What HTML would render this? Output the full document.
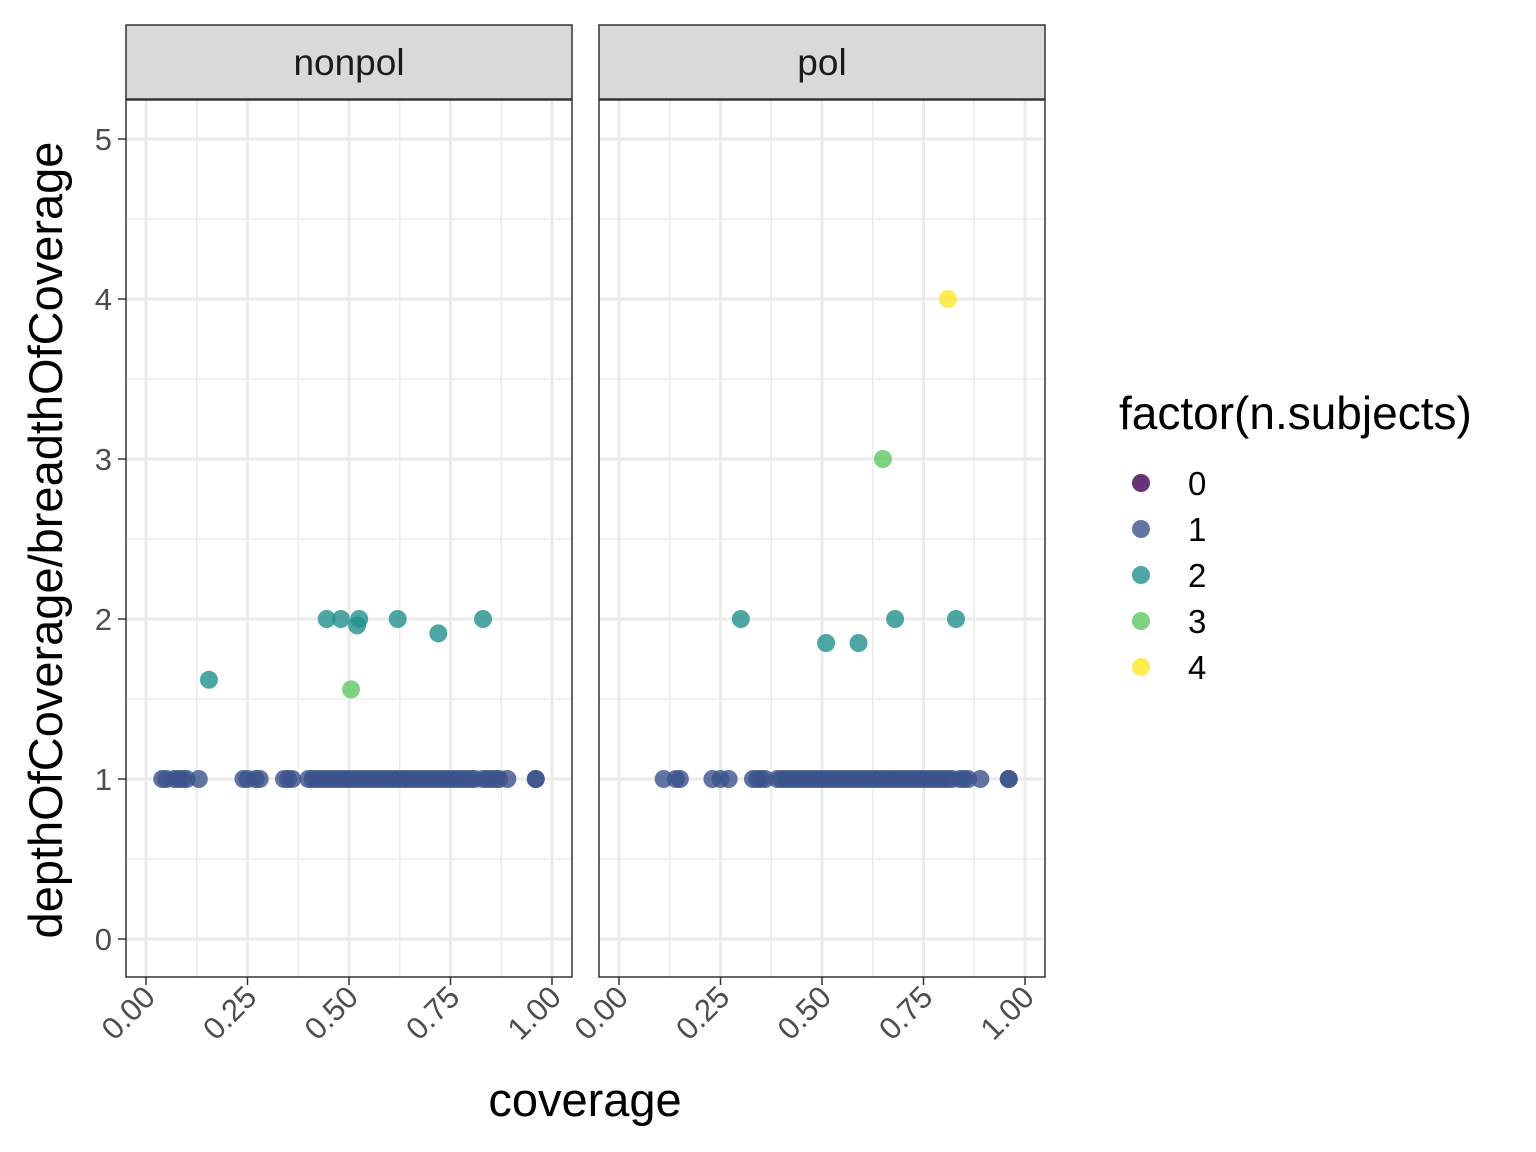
<!DOCTYPE html>
<html><head><meta charset="utf-8"><style>body{margin:0;background:#fff}svg{display:block;font-family:"Liberation Sans",sans-serif}</style></head>
<body>
<svg id="c" width="1536" height="1152" viewBox="0 0 1536 1152"></svg>
<script>
const panels=["nonpol","pol"];
const levels=["0","1","2","3","4"];
const colors=["#440154","#3B528B","#21908C","#5DC863","#FDE725"];
const xTicks=[0,0.25,0.5,0.75,1];
const xTickLabels=["0.00","0.25","0.50","0.75","1.00"];
const yTicks=[0,1,2,3,4,5];
// nonpol data
const npX=[0.04,0.05,0.07,0.08,0.09,0.10,0.13,0.24,0.25,0.27,0.28,0.34,0.35,0.36,0.40,0.41,0.42,0.43,0.44,0.45,0.46,0.47,0.48,0.49,0.50,0.51,0.52,0.53,0.54,0.55,0.56,0.57,0.58,0.59,0.60,0.61,0.62,0.63,0.64,0.65,0.66,0.67,0.68,0.69,0.70,0.71,0.72,0.73,0.74,0.75,0.76,0.77,0.78,0.79,0.80,0.81,0.83,0.84,0.85,0.86,0.87,0.89,0.96,0.96,
0.155,0.445,0.48,0.525,0.52,0.62,0.72,0.83,0.505];
const npY=[1,1,1,1,1,1,1,1,1,1,1,1,1,1,1,1,1,1,1,1,1,1,1,1,1,1,1,1,1,1,1,1,1,1,1,1,1,1,1,1,1,1,1,1,1,1,1,1,1,1,1,1,1,1,1,1,1,1,1,1,1,1,1,1,
1.62,2,2,2,1.96,2,1.91,2,1.56];
const npG=[1,1,1,1,1,1,1,1,1,1,1,1,1,1,1,1,1,1,1,1,1,1,1,1,1,1,1,1,1,1,1,1,1,1,1,1,1,1,1,1,1,1,1,1,1,1,1,1,1,1,1,1,1,1,1,1,1,1,1,1,1,1,1,1,
2,2,2,2,2,2,2,2,3];
// pol data
const pX=[0.11,0.14,0.15,0.23,0.25,0.27,0.33,0.34,0.35,0.36,0.39,0.40,0.41,0.42,0.43,0.44,0.45,0.46,0.47,0.48,0.49,0.50,0.51,0.52,0.53,0.54,0.55,0.56,0.57,0.58,0.59,0.60,0.61,0.62,0.63,0.64,0.65,0.66,0.67,0.68,0.69,0.70,0.71,0.72,0.73,0.74,0.75,0.76,0.77,0.78,0.79,0.80,0.81,0.82,0.84,0.85,0.86,0.89,0.96,0.96,
0.30,0.51,0.59,0.68,0.83,0.65,0.81];
const pY=[1,1,1,1,1,1,1,1,1,1,1,1,1,1,1,1,1,1,1,1,1,1,1,1,1,1,1,1,1,1,1,1,1,1,1,1,1,1,1,1,1,1,1,1,1,1,1,1,1,1,1,1,1,1,1,1,1,1,1,1,
2,1.85,1.85,2,2,3,4];
const pG=[1,1,1,1,1,1,1,1,1,1,1,1,1,1,1,1,1,1,1,1,1,1,1,1,1,1,1,1,1,1,1,1,1,1,1,1,1,1,1,1,1,1,1,1,1,1,1,1,1,1,1,1,1,1,1,1,1,1,1,1,
2,2,2,2,2,3,4];
const data=[[npX,npY,npG],[pX,pY,pG]];

const svg=document.getElementById('c');const NS="http://www.w3.org/2000/svg";
function mk(t,a,p){const e=document.createElementNS(NS,t);for(const k in a)e.setAttribute(k,a[k]);(p||svg).appendChild(e);return e;}
const panelL=[126,599],pw=446,topY=100,botY=977;
const yS=v=>939-v*160;
panels.forEach((name,pi)=>{
  const L=panelL[pi];const xS=v=>L+20+v*406;
  const g=mk('g',{});
  
  
  for(let i=0;i<4;i++){const v=(xTicks[i]+xTicks[i+1])/2;mk('line',{x1:xS(v),x2:xS(v),y1:topY,y2:botY,stroke:'#ebebeb','stroke-width':1.5},g);}
  for(let i=0;i<5;i++){const v=i+0.5;mk('line',{x1:L,x2:L+pw,y1:yS(v),y2:yS(v),stroke:'#ebebeb','stroke-width':1.5},g);}
  xTicks.forEach(v=>mk('line',{x1:xS(v),x2:xS(v),y1:topY,y2:botY,stroke:'#ebebeb','stroke-width':3},g));
  yTicks.forEach(v=>mk('line',{x1:L,x2:L+pw,y1:yS(v),y2:yS(v),stroke:'#ebebeb','stroke-width':3},g));
  const [dx,dy,dg]=data[pi];
  dx.forEach((v,i)=>{const c=mk('circle',{cx:xS(v),cy:yS(dy[i]),r:9,fill:colors[dg[i]],'fill-opacity':0.8},g);
    
    });
  mk('rect',{x:L,y:topY,width:pw,height:botY-topY,fill:'none',stroke:'#333','stroke-width':1.5},g);
  const s=mk('rect',{x:L,y:25,width:pw,height:74,fill:'#d9d9d9',stroke:'#333','stroke-width':1.5},g);
  
  
  const st=mk('text',{x:L+pw/2,y:75,'text-anchor':'middle','font-size':37,fill:'#1a1a1a'},g);st.textContent=name;
  
  
  xTicks.forEach((v,i)=>{mk('line',{x1:xS(v),x2:xS(v),y1:botY,y2:botY+8,stroke:'#333','stroke-width':1.5},g);
    const t=mk('text',{x:xS(v)+11,y:botY+22,'text-anchor':'end','font-size':31,fill:'#4d4d4d',transform:`rotate(-45 ${xS(v)+11} ${botY+22})`},g);t.textContent=xTickLabels[i];
    
    });
  if(pi===0) yTicks.forEach(v=>{mk('line',{x1:L-8,x2:L,y1:yS(v),y2:yS(v),stroke:'#333','stroke-width':1.5},g);
    const t=mk('text',{x:L-14,y:yS(v)+11,'text-anchor':'end','font-size':31,fill:'#4d4d4d'},g);t.textContent=v;
    
    });
});
let tx=mk('text',{x:585,y:1116,'text-anchor':'middle','font-size':47,fill:'#000'});tx.textContent='coverage';


tx=mk('text',{x:62,y:540,'text-anchor':'middle','font-size':47,fill:'#000',transform:'rotate(-90 62 540)'});tx.textContent='depthOfCoverage/breadthOfCoverage';


tx=mk('text',{x:1119,y:429,'font-size':46,fill:'#000'});tx.textContent='factor(n.subjects)';


levels.forEach((l,i)=>{const yy=483+i*46;
  const c=mk('circle',{cx:1141,cy:yy,r:9,fill:colors[i],'fill-opacity':0.8});
  
  
  const tt=mk('text',{x:1188,y:yy+12,'font-size':33,fill:'#000'});tt.textContent=l;
  
  });
</script>
</body></html>
